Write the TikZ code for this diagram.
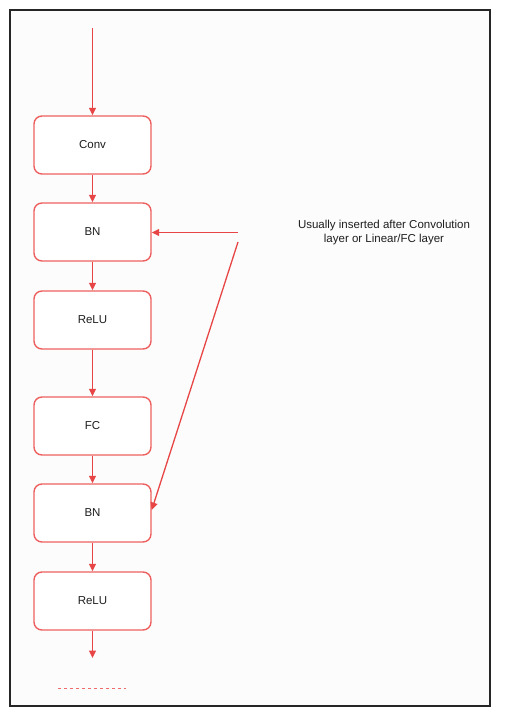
\documentclass[tikz,border=0pt]{standalone}
\usepackage{fontspec}
\setmainfont{Liberation Sans}
\usetikzlibrary{arrows.meta}
\definecolor{boxred}{RGB}{238,96,96}
\definecolor{arrred}{RGB}{232,70,70}
\definecolor{txt}{RGB}{30,30,30}
\tikzset{
  layerbox/.style={draw=boxred, line width=1.4pt, rounded corners=8pt, minimum width=117pt, minimum height=58pt, inner sep=0pt, text=txt, font=\fontsize{11.5}{14}\selectfont, fill=white},
  flow/.style={draw=arrred, line width=1.3pt, -{Triangle[length=7.5pt,width=7pt]}},
  notetext/.style={text=txt, align=center, font=\fontsize{11.5}{14}\selectfont, inner sep=0pt}
}
\begin{document}
\begin{tikzpicture}[x=1pt,y=-1pt]
\useasboundingbox (0,0) rectangle (517,720);
\fill[white] (0,0) rectangle (517,720);
\fill[black!1] (10,10) rectangle (490,706);
\draw[line width=2.2pt, black!85] (10,10) rectangle (490,706);

\node[layerbox] (conv)  at (92.5,145) {Conv};
\node[layerbox] (bn1)   at (92.5,232) {BN};
\node[layerbox] (relu1) at (92.5,320) {ReLU};
\node[layerbox] (fc)    at (92.5,426) {FC};
\node[layerbox] (bn2)   at (92.5,513) {BN};
\node[layerbox] (relu2) at (92.5,601) {ReLU};

\coordinate (in) at (92.5,28);
\coordinate (out) at (92.5,658);
\coordinate (hstart) at (238,232.5);
\coordinate (dstart) at (238,242);
\coordinate (dashL) at (58,688);
\coordinate (dashR) at (126,688);

\draw[flow] (in) -- (conv.north);
\draw[flow] (conv) -- (bn1);
\draw[flow] (bn1) -- (relu1);
\draw[flow] (relu1) -- (fc);
\draw[flow] (fc) -- (bn2);
\draw[flow] (bn2) -- (relu2);
\draw[flow] (relu2.south) -- (out);

\draw[flow] (hstart) -- (bn1.east |- hstart);
\draw[flow] (dstart) -- ([yshift=3pt]bn2.east);

\draw[draw=arrred!80, line width=1pt, dash pattern=on 3pt off 3pt] (dashL) -- (dashR);

\node[notetext] (note) at (384,233) {Usually inserted after Convolution\\layer or Linear/FC layer};
\end{tikzpicture}
\end{document}
